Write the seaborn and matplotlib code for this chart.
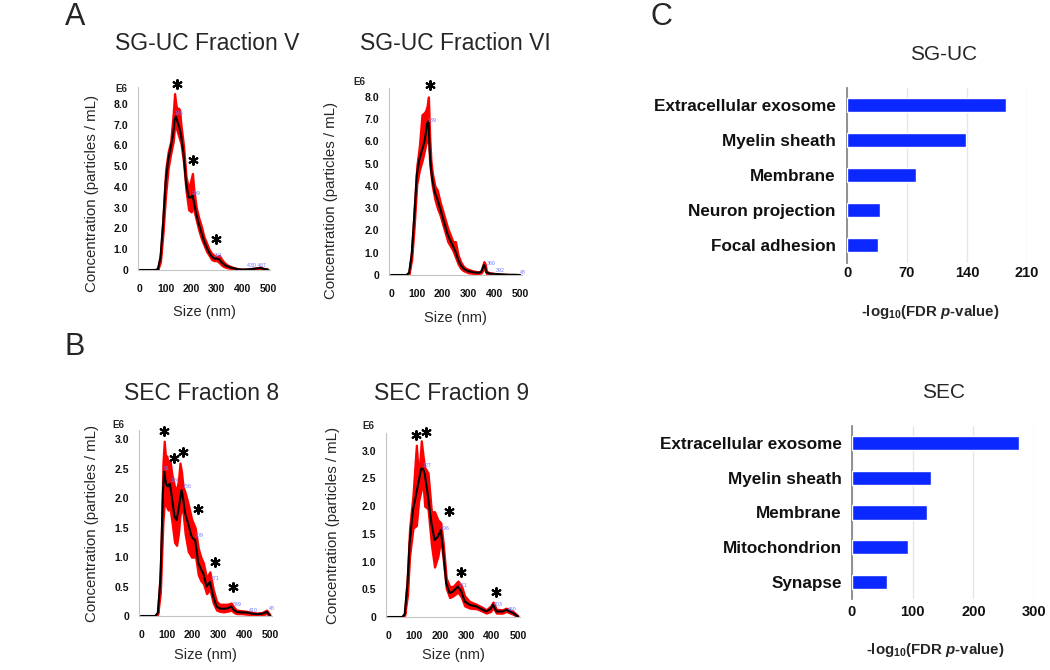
import numpy as np
import pandas as pd
import matplotlib
matplotlib.use("Agg")
import matplotlib.pyplot as plt
import seaborn as sns

# ---------------- data ----------------
# Panel A1: SG-UC Fraction V (concentration, E6 particles/mL)
a1_size = [0, 60, 70, 80, 90, 100, 110, 120, 130, 135, 140, 145, 150, 155, 160, 170, 180, 190, 200, 205,
           210, 220, 230, 240, 250, 260, 270, 280, 290, 300, 310, 320, 330, 340, 360, 380, 400, 420, 440, 460,
           470, 480, 500]
a1_mean = [0, 0, 0.05, 0.6, 2.2, 4.2, 5.3, 5.9, 6.6, 7.2, 7.4, 7.2, 7.0, 6.8, 6.5, 5.6, 4.2, 3.5, 3.5, 3.6,
           3.3, 2.7, 2.2, 1.8, 1.4, 1.1, 0.85, 0.65, 0.55, 0.55, 0.5, 0.35, 0.25, 0.18, 0.1, 0.04, 0.02, 0.03, 0.05, 0.08,
           0.1, 0.06, 0.02]
a1_upper = [0, 0, 0.07, 0.8, 2.6, 4.8, 5.7, 6.2, 7.6, 8.5, 8.0, 7.7, 7.8, 7.7, 7.0, 6.0, 4.5, 3.9, 4.4, 4.65,
            3.9, 3.0, 2.5, 2.1, 1.6, 1.3, 1.0, 0.8, 0.7, 0.65, 0.7, 0.5, 0.35, 0.25, 0.14, 0.07, 0.04, 0.05, 0.08, 0.11,
            0.14, 0.09, 0.03]
a1_lower = [0, 0, 0.03, 0.4, 1.8, 3.6, 4.9, 5.6, 6.2, 6.9, 6.9, 6.7, 6.5, 6.3, 6.1, 5.2, 3.8, 2.9, 2.8, 3.0,
            2.9, 2.4, 1.9, 1.5, 1.2, 0.9, 0.7, 0.5, 0.45, 0.45, 0.35, 0.22, 0.15, 0.11, 0.06, 0.02, 0.01, 0.01, 0.03, 0.05,
            0.06, 0.03, 0.01]
a1_stars_x = [144, 208, 296]
a1_stars_y = [8.96, 5.3, 1.5]
a1_peaks = [("145", 152, 7.55), ("209", 221, 3.7), ("291", 305, 0.72), ("430 467", 455, 0.24)]

# Panel A2: SG-UC Fraction VI
a2_size = [0, 60, 70, 80, 90, 100, 110, 120, 130, 135, 140, 145, 150, 155, 160, 170, 180, 190, 200, 210,
           220, 230, 240, 250, 260, 270, 280, 290, 300, 320, 340, 350, 360, 365, 370, 380, 400, 420, 440, 460,
           480, 500]
a2_mean = [0, 0, 0.1, 0.9, 2.6, 4.5, 5.2, 5.6, 6.0, 6.4, 6.8, 6.9, 5.6, 4.8, 4.3, 3.7, 3.4, 3.0, 2.6, 2.2,
           1.8, 1.55, 1.3, 1.05, 0.7, 0.45, 0.3, 0.22, 0.17, 0.12, 0.1, 0.15, 0.45, 0.35, 0.12, 0.07, 0.05, 0.03, 0.02, 0.01,
           0.01, 0]
a2_upper = [0, 0, 0.15, 1.1, 3.0, 4.9, 5.8, 7.2, 7.3, 7.4, 7.6, 8.0, 6.2, 5.1, 4.6, 4.0, 3.8, 3.3, 2.9, 2.5,
            2.1, 1.8, 1.5, 1.5, 0.9, 0.6, 0.4, 0.3, 0.25, 0.18, 0.14, 0.2, 0.6, 0.5, 0.18, 0.1, 0.07, 0.05, 0.03, 0.02,
            0.02, 0]
a2_lower = [0, 0, 0.05, 0.7, 2.2, 4.1, 4.7, 5.1, 5.6, 5.9, 6.0, 6.2, 5.0, 4.5, 4.0, 3.4, 3.0, 2.7, 2.3, 1.9,
            1.5, 1.3, 1.1, 0.8, 0.5, 0.3, 0.2, 0.15, 0.1, 0.07, 0.06, 0.1, 0.3, 0.2, 0.07, 0.04, 0.03, 0.01, 0.01, 0,
            0, 0]
a2_stars_x = [151]
a2_stars_y = [8.55]
a2_peaks = [("139", 161, 6.95), ("360", 388, 0.5), ("392", 422, 0.22), ("48", 510, 0.1)]

# Panel B1: SEC Fraction 8
b1_size = [0, 55, 65, 75, 80, 85, 90, 95, 100, 105, 112, 120, 130, 138, 145, 151, 157, 163, 171, 183,
           196, 205, 210, 222, 232, 242, 254, 267, 280, 293, 305, 319, 335, 350, 360, 371, 390, 410, 430, 450,
           470, 487, 500]
b1_mean = [0, 0, 0.05, 0.6, 1.3, 2.1, 2.45, 2.3, 2.22, 2.2, 2.25, 2.0, 1.69, 1.63, 1.8, 1.97, 2.14, 2.0, 1.74, 1.57,
           1.35, 1.3, 1.29, 0.9, 0.8, 0.72, 0.5, 0.58, 0.33, 0.16, 0.13, 0.12, 0.13, 0.16, 0.1, 0.07, 0.06, 0.06, 0.04, 0.03,
           0.04, 0.07, 0.01]
b1_upper = [0, 0, 0.07, 0.8, 1.6, 2.6, 2.97, 2.7, 2.72, 2.6, 2.65, 2.4, 2.2, 2.15, 2.3, 2.6, 2.45, 2.2, 2.1, 1.9,
            1.65, 1.55, 1.5, 1.15, 1.0, 0.9, 0.65, 0.75, 0.45, 0.25, 0.2, 0.2, 0.2, 0.22, 0.15, 0.1, 0.09, 0.08, 0.06, 0.05,
            0.06, 0.1, 0.02]
b1_lower = [0, 0, 0.03, 0.4, 1.0, 1.6, 1.9, 1.9, 1.85, 1.8, 1.85, 1.6, 1.25, 1.2, 1.4, 1.7, 1.85, 1.75, 1.4, 1.1,
            1.0, 1.0, 1.05, 0.7, 0.6, 0.55, 0.38, 0.45, 0.22, 0.1, 0.08, 0.07, 0.08, 0.1, 0.06, 0.04, 0.04, 0.03, 0.02, 0.01,
            0.02, 0.04, 0]
b1_stars_x = [89, 129, 161, 222, 287, 355]
b1_stars_y = [3.15, 2.69, 2.79, 1.81, 0.92, 0.49]
b1_peaks = [("91", 100, 2.5), ("124", 132, 2.3), ("156", 177, 2.2), ("209", 226, 1.37),
            ("271", 287, 0.64), ("349", 371, 0.19), ("410", 436, 0.1), ("48", 507, 0.12)]

# Panel B2: SEC Fraction 9
b2_size = [0, 55, 64, 75, 83, 96, 109, 118, 128, 135, 141, 154, 167, 179, 192, 203, 212, 224, 237, 250,
           269, 282, 295, 314, 340, 365, 378, 395, 404, 417, 440, 455, 481, 500]
b2_mean = [0, 0, 0.05, 0.6, 1.33, 1.93, 2.23, 2.45, 2.68, 2.67, 2.59, 2.17, 1.69, 1.39, 1.45, 1.57, 1.21, 0.61, 0.43, 0.46,
           0.55, 0.46, 0.28, 0.22, 0.19, 0.13, 0.1, 0.15, 0.22, 0.1, 0.1, 0.13, 0.07, 0.01]
b2_upper = [0, 0, 0.07, 0.8, 1.6, 2.2, 3.1, 2.5, 3.18, 2.9, 2.7, 2.6, 1.9, 1.9, 1.75, 1.7, 1.35, 0.7, 0.55, 0.55,
            0.65, 0.57, 0.38, 0.28, 0.23, 0.17, 0.13, 0.2, 0.27, 0.14, 0.13, 0.16, 0.1, 0.02]
b2_lower = [0, 0, 0.03, 0.4, 1.1, 1.6, 1.65, 2.1, 2.3, 2.4, 2.0, 1.95, 1.3, 0.9, 1.1, 1.4, 1.05, 0.52, 0.35, 0.38,
            0.45, 0.36, 0.2, 0.16, 0.15, 0.1, 0.07, 0.1, 0.17, 0.07, 0.07, 0.1, 0.05, 0]
b2_stars_x = [106, 145, 235, 282, 414]
b2_stars_y = [3.28, 3.34, 1.91, 0.82, 0.46]
b2_peaks = [("127", 150, 2.74), ("196", 218, 1.6), ("271", 288, 0.56), ("403", 423, 0.23), ("460", 478, 0.14)]

size_ticks = [0, 100, 200, 300, 400, 500]
a_yticks = [0, 1, 2, 3, 4, 5, 6, 7, 8]
a_yticklabels = ["0", "1.0", "2.0", "3.0", "4.0", "5.0", "6.0", "7.0", "8.0"]
b_yticks = [0, 0.5, 1.0, 1.5, 2.0, 2.5, 3.0]
b_yticklabels = ["0", "0.5", "1.0", "1.5", "2.0", "2.5", "3.0"]

# Panel C: GO enrichment
sguc_terms = ["Extracellular exosome", "Myelin sheath", "Membrane", "Neuron projection", "Focal adhesion"]
sguc_vals = [186, 139, 81, 38, 36.5]
sguc_ticks = [0, 70, 140, 210]
sec_terms = ["Extracellular exosome", "Myelin sheath", "Membrane", "Mitochondrion", "Synapse"]
sec_vals = [275, 130, 124, 93, 57.5]
sec_ticks = [0, 100, 200, 300]

# ---------------- style ----------------
sns.set_style("white")
plt.rcParams["font.family"] = ["Liberation Sans", "DejaVu Sans"]
plt.rcParams["mathtext.fontset"] = "custom"
plt.rcParams["mathtext.rm"] = "Liberation Sans:bold"
plt.rcParams["mathtext.it"] = "Liberation Sans:italic:bold"
plt.rcParams["mathtext.bf"] = "Liberation Sans:bold"

W, H = 1050, 670
fig = plt.figure(figsize=(10.5, 6.7), dpi=100)


def rect(left, right, top, bottom):
    return [left / W, 1 - bottom / H, (right - left) / W, (bottom - top) / H]


def ftext(px, py, s, ha="center", **kw):
    fig.text(px / W, 1 - py / H, s, ha=ha, va="center", **kw)


def nta_panel(box, size, mean, upper, lower, ylim, yticks, yticklabels,
              stars_x, stars_y, peaks, ylab_x, ylab_y, xlab_y, e6_pos):
    ax = fig.add_axes(rect(*box))
    ax.fill_between(size, lower, upper, color="#ff0000", edgecolor="#ff0000", lw=1.6, zorder=2)
    sns.lineplot(x=size, y=mean, color="black", lw=1.5, ax=ax, zorder=3)
    ax.scatter(stars_x, stars_y, marker=(6, 2, 0), s=40, lw=1.5, color="black",
               clip_on=False, zorder=5)
    for lab, px, py in peaks:
        ax.text(px, py, lab, fontsize=3.8, color="#6a78ff", ha="center", va="center", zorder=6)
    ax.set_xlim(-7.8, 507.8)
    ax.set_ylim(*ylim)
    ax.set_xticks(size_ticks)
    ax.set_xticklabels([str(t) for t in size_ticks], fontweight="bold", fontsize=7.5)
    ax.set_yticks(yticks)
    ax.set_yticklabels(yticklabels, fontweight="bold", fontsize=7.5)
    ax.tick_params(axis="x", length=0, pad=10, colors="#111111")
    ax.tick_params(axis="y", length=2.5, width=0.6, pad=4.5, colors="#111111")
    ax.tick_params(axis="y", color="#bbbbbb")
    for s in ["top", "right"]:
        ax.spines[s].set_visible(False)
    for s in ["left", "bottom"]:
        ax.spines[s].set_color("#c4c4c4")
        ax.spines[s].set_linewidth(0.8)
    ax.set_xlabel("Size (nm)", fontsize=10.5)
    ax.set_ylabel("Concentration (particles / mL)", fontsize=10.8)
    ax.xaxis.set_label_coords(0.5, xlab_y)
    ax.yaxis.set_label_coords(ylab_x, ylab_y)
    ftext(e6_pos[0], e6_pos[1], "E6", fontsize=7, fontweight="bold")
    return ax


nta_panel((138, 270, 86.7, 270), a1_size, a1_mean, a1_upper, a1_lower, (0, 8.83),
          a_yticks, a_yticklabels, a1_stars_x, a1_stars_y, a1_peaks, -0.295, 0.42, -0.19, (121, 89))
nta_panel((389, 522, 88, 275), a2_size, a2_mean, a2_upper, a2_lower, (0, 8.4),
          a_yticks, a_yticklabels, a2_stars_x, a2_stars_y, a2_peaks, -0.383, 0.40, -0.19, (359, 82))
nta_panel((139, 272, 430, 616), b1_size, b1_mean, b1_upper, b1_lower, (0, 3.16),
          b_yticks, b_yticklabels, b1_stars_x, b1_stars_y, b1_peaks, -0.30, 0.5, -0.17, (118, 425))
nta_panel((386, 520, 433, 617), b2_size, b2_mean, b2_upper, b2_lower, (0, 3.32),
          b_yticks, b_yticklabels, b2_stars_x, b2_stars_y, b2_peaks, -0.343, 0.5, -0.17, (368, 426))


def go_panel(box, terms, vals, ticks, xlab_x, xlab_y, tickpad, catpad):
    ax = fig.add_axes(rect(*box))
    df = pd.DataFrame({"term": terms, "value": vals})
    sns.barplot(data=df, x="value", y="term", orient="h", color="#0a28ff", saturation=1,
                width=0.41, ax=ax, zorder=3)
    ax.set_xlim(ticks[0], ticks[-1])
    ax.set_ylim(len(terms) - 0.5, -0.5)
    ax.set_xticks(ticks)
    ax.set_xticklabels([str(t) for t in ticks], fontweight="bold", fontsize=10.5)
    ax.set_yticklabels(terms, fontweight="bold", fontsize=12.3)
    ax.tick_params(axis="x", length=0, pad=tickpad, colors="#111111")
    ax.tick_params(axis="y", length=0, pad=catpad, colors="#111111")
    ax.xaxis.grid(True, color="#e6e6e6", lw=1.0, zorder=0)
    ax.yaxis.grid(False)
    ax.set_axisbelow(True)
    for s in ["top", "right", "bottom"]:
        ax.spines[s].set_visible(False)
    ax.spines["left"].set_color("#888888")
    ax.spines["left"].set_linewidth(1.3)
    ax.set_ylabel("")
    ax.set_xlabel(r"-log$_{\mathrm{10}}$(FDR $p$-value)", fontsize=10.8, fontweight="bold")
    ax.xaxis.set_label_coords(xlab_x, xlab_y)
    return ax


go_panel((847, 1027, 87.5, 262.5), sguc_terms, sguc_vals, sguc_ticks, 0.46, -0.23, 2.5, 8)
go_panel((852, 1034, 425.6, 599.4), sec_terms, sec_vals, sec_ticks, 0.456, -0.24, 4, 7.5)

# ---------------- titles and panel letters ----------------
ftext(75, 17, "A", fontsize=22)
ftext(75, 347, "B", fontsize=22)
ftext(661, 17, "C", fontsize=22)
ftext(207, 43, "SG-UC Fraction V", fontsize=16.5)
ftext(455, 43, "SG-UC Fraction VI", fontsize=16.5)
ftext(202, 393, "SEC Fraction 8", fontsize=16.5)
ftext(452, 393, "SEC Fraction 9", fontsize=16.5)
ftext(944, 55, "SG-UC", fontsize=15)
ftext(944, 393, "SEC", fontsize=15)

fig.savefig("out.png", dpi=100)
